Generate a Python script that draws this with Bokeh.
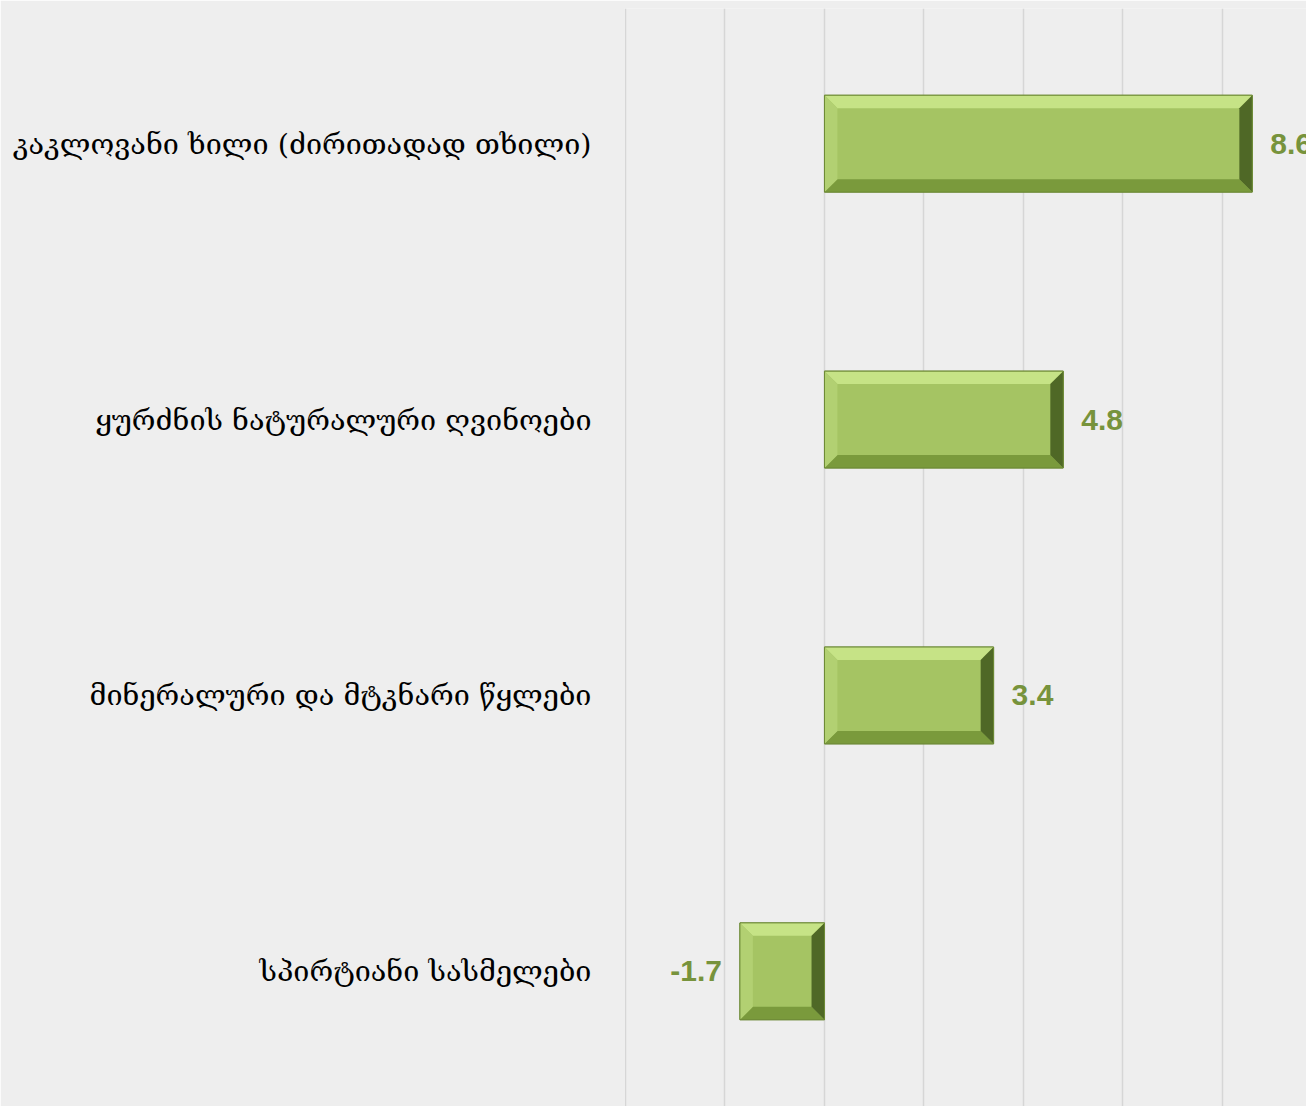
from bokeh.plotting import figure
from bokeh.models import Range1d, FixedTicker, ColumnDataSource
from bokeh.core.properties import value
from bokeh.embed import file_html
from bokeh.resources import INLINE

categories = ["კაკლოვანი ხილი (ძირითადად თხილი)",
              "ყურძნის ნატურალური ღვინოები",
              "მინერალური და მტკნარი წყლები",
              "სპირტიანი სასმელები"]
values = [8.6, 4.8, 3.4, -1.7]
x_ticks = [-4, -2, 0, 2, 4, 6, 8, 10]

BG = "#eeeeee"
p = figure(width=1306, height=1106, output_backend="svg", toolbar_location=None,
           x_range=Range1d(-4.02, 9.69), y_range=Range1d(-0.49, 3.49),
           min_border_left=624, min_border_right=0, min_border_top=8, min_border_bottom=0,
           background_fill_color=BG, border_fill_color=BG, outline_line_color=None)

n = len(categories)
ypos = [n - 1 - i for i in range(n)]
h = 0.351
bx, by = 0.26, 0.047

x0s = [min(0, v) for v in values]
x1s = [max(0, v) for v in values]
y0s = [y - h / 2 for y in ypos]
y1s = [y + h / 2 for y in ypos]

p.quad(left=x0s, right=x1s, bottom=y0s, top=y1s, fill_color="#a5c463",
       line_color="#6d8a36", line_width=1)

xs, ys, cols = [], [], []
for x0, x1, y0, y1 in zip(x0s, x1s, y0s, y1s):
    xs.append([x0, x1, x1 - bx, x0 + bx]); ys.append([y1, y1, y1 - by, y1 - by]); cols.append("#c6e386")
    xs.append([x0, x1, x1 - bx, x0 + bx]); ys.append([y0, y0, y0 + by, y0 + by]); cols.append("#7a9a3c")
    xs.append([x0, x0, x0 + bx, x0 + bx]); ys.append([y0, y1, y1 - by, y0 + by]); cols.append("#b2d072")
    xs.append([x1, x1, x1 - bx, x1 - bx]); ys.append([y0, y1, y1 - by, y0 + by]); cols.append("#4f6826")
p.patches(xs=xs, ys=ys, fill_color=cols, line_color=None)
p.quad(left=x0s, right=x1s, bottom=y0s, top=y1s, fill_color=None,
       line_color="#6d8a36", line_width=1)

src = ColumnDataSource(dict(
    x=values, y=ypos, t=[f"{v:.1f}" for v in values],
    off=[18 if v >= 0 else -18 for v in values],
    al=["left" if v >= 0 else "right" for v in values]))
p.text(x="x", y="y", text="t", x_offset="off", text_align="al", text_baseline="middle",
       text_font_size="30px", text_font_style="bold", text_color="#77933c",
       text_font=value("Liberation Sans"), source=src)

p.xaxis.visible = False
p.xaxis.ticker = FixedTicker(ticks=x_ticks)
p.xgrid.ticker = FixedTicker(ticks=x_ticks)
p.xgrid.grid_line_color = "#d6d6d6"
p.xgrid.grid_line_width = 1.5
p.ygrid.grid_line_color = None

p.yaxis.ticker = FixedTicker(ticks=ypos)
p.yaxis.major_label_overrides = {y: c for y, c in zip(ypos, categories)}
p.yaxis.axis_line_color = None
p.yaxis.major_tick_line_color = None
p.yaxis.minor_tick_line_color = None
p.yaxis.major_label_standoff = 27
p.yaxis.major_label_text_font = "DejaVu Serif"
p.yaxis.major_label_text_font_size = "28.8px"
p.yaxis.major_label_text_color = "#000000"

open("out.html", "w").write(file_html(p, INLINE))
